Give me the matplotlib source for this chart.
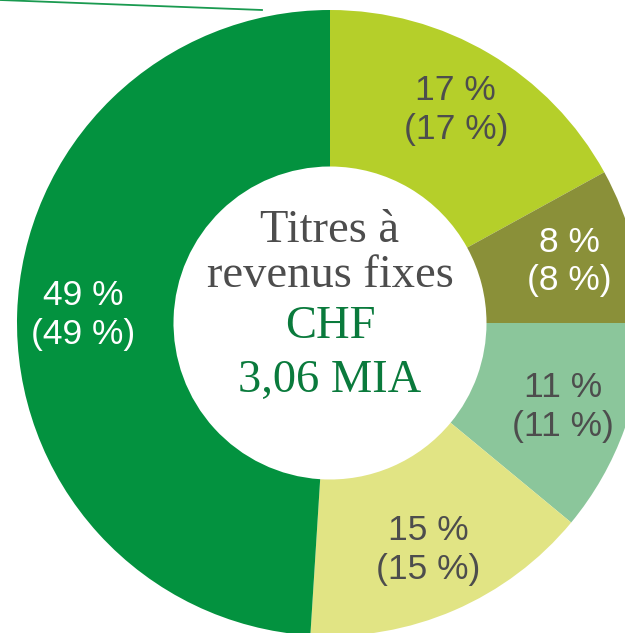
"""
Donut chart: allocation of fixed-income securities (CHF 3,06 MIA).
"""

import numpy as np
import matplotlib.pyplot as plt
from matplotlib.lines import Line2D

# Data
shares = [17, 8, 11, 15, 49]
prev_shares = [17, 8, 11, 15, 49]
colors = ['#b5cf2a', '#8a9039', '#8bc69b', '#e1e484', '#03923f']
label_colors = ['#4d4d4d', 'white', '#4d4d4d', '#4d4d4d', 'white']

center_lines = ['Titres à', 'revenus fixes', 'CHF', '3,06 MIA']
center_colors = ['#4d4d4d', '#4d4d4d', '#0a7a3c', '#0a7a3c']

W, H = 625, 633
cx, cy, R = 330, 323, 313  # pixel position of pie centre, radius

fig = plt.figure(figsize=(W / 100, H / 100), dpi=100)
ax = fig.add_axes([0, 0, 1, 1])

wedges, _ = ax.pie(shares, colors=colors, startangle=90, counterclock=False,
                   radius=1, wedgeprops=dict(width=0.5, linewidth=0),
                   normalize=True)

ax.set_xlim(-cx / R, (W - cx) / R)
ax.set_ylim(-(H - cy) / R, cy / R)
ax.set_aspect('equal')
ax.axis('off')

total = sum(shares)
start = 90
for i, (s, p) in enumerate(zip(shares, prev_shares)):
    mid = start - s / total * 360 / 2
    start -= s / total * 360
    r = 0.79
    x, y = r * np.cos(np.radians(mid)), r * np.sin(np.radians(mid))
    ax.text(x, y, f'{s} %\n({p} %)', ha='center', va='center',
            fontsize=25.5, color=label_colors[i], family='Liberation Sans',
            linespacing=1.22)

# centre caption, one line at a time (baselines ~50 px apart)
baselines = [242, 287, 338, 392]
for txt, col, b in zip(center_lines, center_colors, baselines):
    ax.text(0, (cy - b) / R, txt, ha='center', va='baseline', fontsize=33.5,
            color=col, family='Liberation Serif')

# thin decorative rule at the top left
fig.add_artist(Line2D([0, 262 / W], [1, 1 - 10 / H], color='#1a9a50',
                      linewidth=1.3, transform=fig.transFigure))

fig.savefig('out.png', dpi=100)
